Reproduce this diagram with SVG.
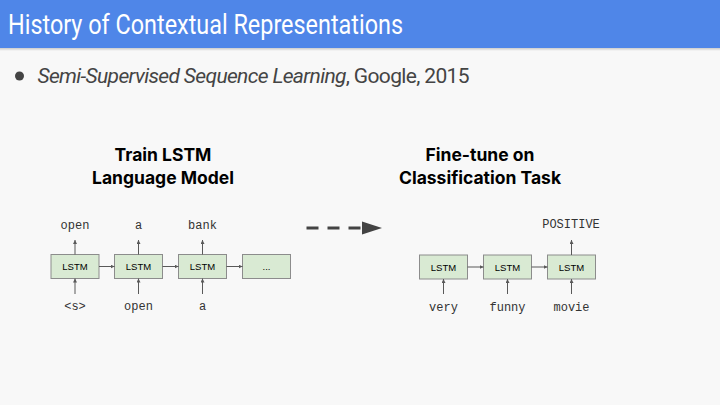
<svg xmlns="http://www.w3.org/2000/svg" width="720" height="405" viewBox="0 0 720 405">
<defs>
<marker id="ah" viewBox="0 0 6 6" refX="6" refY="3" markerWidth="4" markerHeight="4" orient="auto" markerUnits="userSpaceOnUse"><path d="M0,0 L6,3 L0,6 z" fill="#595959"/></marker>
<linearGradient id="sh" x1="0" y1="0" x2="0" y2="1"><stop offset="0" stop-color="#000" stop-opacity="0.18"/><stop offset="1" stop-color="#000" stop-opacity="0"/></linearGradient>
<style>
.box{fill:#d9ead3;stroke:#8c8c8c;stroke-width:1}
.bt{font-family:"Liberation Sans",Arial,sans-serif;font-size:9.5px;fill:#000;text-anchor:middle}
.lab{font-family:"Liberation Mono","Courier New",monospace;font-size:12px;fill:#333;text-anchor:middle}
.hd{font-family:Inter,"Liberation Sans",sans-serif;font-weight:bold;font-size:17.5px;fill:#000;text-anchor:middle}
.c{stroke:#595959;stroke-width:1;fill:none;marker-end:url(#ah)}
</style>
</defs>
<rect width="720" height="405" fill="#f8f8f8"/>
<rect width="720" height="48" fill="#4f86e8"/>
<rect y="48" width="720" height="3" fill="url(#sh)"/>
<text x="8" y="34" font-family="Roboto,'Open Sans',sans-serif" font-size="28" fill="#fff" textLength="395" lengthAdjust="spacingAndGlyphs">History of Contextual Representations</text>
<circle cx="19.5" cy="76" r="4.5" fill="#444"/>
<text x="37.5" y="83" font-family="Roboto,'Open Sans',sans-serif" font-size="21" letter-spacing="-0.65" fill="#444"><tspan font-style="italic">Semi-Supervised Sequence Learning</tspan>, Google, 2015</text>

<g id="heading-left"><text class="hd" x="163" y="161">Train LSTM</text><text class="hd" x="163" y="184">Language Model</text></g>
<g id="heading-right"><text class="hd" x="480" y="161">Fine-tune on</text><text class="hd" x="480" y="184">Classification Task</text></g>

<g id="n1"><rect class="box" x="51" y="254.5" width="48" height="24"/><text class="bt" x="75" y="270">LSTM</text></g>
<g id="n2"><rect class="box" x="114.5" y="254.5" width="48" height="24"/><text class="bt" x="138.5" y="270">LSTM</text></g>
<g id="n3"><rect class="box" x="178.5" y="254.5" width="48" height="24"/><text class="bt" x="202.5" y="270">LSTM</text></g>
<g id="n4"><rect class="box" x="242.5" y="254.5" width="48" height="24"/><text class="bt" x="266.5" y="270">...</text></g>

<g id="m1"><rect class="box" x="419.5" y="255" width="48" height="24"/><text class="bt" x="443.5" y="270.5">LSTM</text></g>
<g id="m2"><rect class="box" x="483.5" y="255" width="48" height="24"/><text class="bt" x="507.5" y="270.5">LSTM</text></g>
<g id="m3"><rect class="box" x="547.5" y="255" width="48" height="24"/><text class="bt" x="571.5" y="270.5">LSTM</text></g>

<g id="labels">
<text class="lab" x="75" y="229">open</text>
<text class="lab" x="138.5" y="229">a</text>
<text class="lab" x="202.5" y="229">bank</text>
<text class="lab" x="75" y="310">&lt;s&gt;</text>
<text class="lab" x="138.5" y="310">open</text>
<text class="lab" x="202.5" y="310">a</text>
<text class="lab" x="571" y="228">POSITIVE</text>
<text class="lab" x="443.5" y="311">very</text>
<text class="lab" x="507.5" y="311">funny</text>
<text class="lab" x="571.5" y="311">movie</text>
</g>

<g id="connectors">
<line class="c" x1="99" y1="266.5" x2="114.5" y2="266.5"/>
<line class="c" x1="162.5" y1="266.5" x2="178.5" y2="266.5"/>
<line class="c" x1="226.5" y1="266.5" x2="242.5" y2="266.5"/>
<line class="c" x1="75" y1="254.5" x2="75" y2="240"/>
<line class="c" x1="138.5" y1="254.5" x2="138.5" y2="240"/>
<line class="c" x1="202.5" y1="254.5" x2="202.5" y2="240"/>
<line class="c" x1="75" y1="294" x2="75" y2="278.5"/>
<line class="c" x1="138.5" y1="294" x2="138.5" y2="278.5"/>
<line class="c" x1="202.5" y1="294" x2="202.5" y2="278.5"/>
<line class="c" x1="467.5" y1="267" x2="483.5" y2="267"/>
<line class="c" x1="531.5" y1="267" x2="547.5" y2="267"/>
<line class="c" x1="571.5" y1="255" x2="571.5" y2="240"/>
<line class="c" x1="443.5" y1="294" x2="443.5" y2="279"/>
<line class="c" x1="507.5" y1="294" x2="507.5" y2="279"/>
<line class="c" x1="571.5" y1="294" x2="571.5" y2="279"/>
<line x1="306.5" y1="228" x2="363" y2="228" stroke="#434343" stroke-width="3" stroke-dasharray="12,9"/>
<path d="M362,221.5 L382,228 L362,234.5 z" fill="#434343"/>
</g>
</svg>
